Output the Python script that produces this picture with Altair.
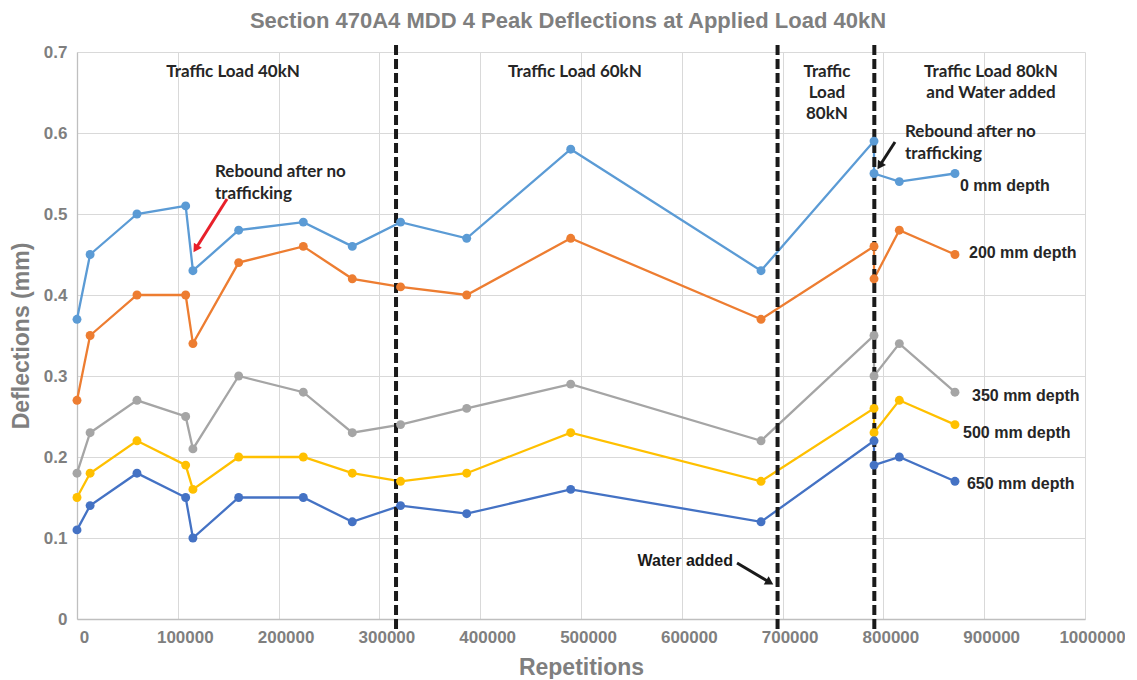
import altair as alt
import pandas as pd
import math

# ---------------- data ----------------
reps = [0, 13000, 59500, 107800, 115000, 160400, 224500, 273100, 321000,
        386600, 489800, 678600, 790700, 790700, 815800, 871000]
depth_0 = [0.37, 0.45, 0.50, 0.51, 0.43, 0.48, 0.49, 0.46, 0.49, 0.47, 0.58, 0.43, 0.59, 0.55, 0.54, 0.55]
depth_200 = [0.27, 0.35, 0.40, 0.40, 0.34, 0.44, 0.46, 0.42, 0.41, 0.40, 0.47, 0.37, 0.46, 0.42, 0.48, 0.45]
depth_350 = [0.18, 0.23, 0.27, 0.25, 0.21, 0.30, 0.28, 0.23, 0.24, 0.26, 0.29, 0.22, 0.35, 0.30, 0.34, 0.28]
depth_500 = [0.15, 0.18, 0.22, 0.19, 0.16, 0.20, 0.20, 0.18, 0.17, 0.18, 0.23, 0.17, 0.26, 0.23, 0.27, 0.24]
depth_650 = [0.11, 0.14, 0.18, 0.15, 0.10, 0.15, 0.15, 0.12, 0.14, 0.13, 0.16, 0.12, 0.22, 0.19, 0.20, 0.17]

series_names = ["0 mm depth", "200 mm depth", "350 mm depth", "500 mm depth", "650 mm depth"]
series_colors = ["#5B9BD5", "#ED7D31", "#A5A5A5", "#FFC000", "#4472C4"]
series_values = [depth_0, depth_200, depth_350, depth_500, depth_650]

# series end labels
label_x = [876000, 884900, 887900, 879000, 882900]
label_y = [0.535, 0.452, 0.275, 0.230, 0.167]

# phase boundaries (dashed lines)
boundary_x = [316500, 695000, 791000]

# region texts
region_text = ["Traffic Load 40kN", "Traffic Load 60kN", "Traffic\nLoad\n80kN",
               "Traffic Load 80kN\nand Water added"]
region_x = [154800, 494000, 744000, 906700]
region_y = [0.685, 0.685, 0.685, 0.685]

rebound_text = ["Rebound after no\ntrafficking", "Rebound after no\ntrafficking"]
rebound_x = [136900, 821400]
rebound_y = [0.562, 0.611]

water_text = ["Water added"]
water_x = [650800]
water_y = [0.0716]

# arrows: start -> tip (data units), colour
arrow_x1 = [148800, 811500, 654800]
arrow_y1 = [0.5185, 0.5889, 0.0691]
arrow_x2 = [115100, 793650, 691500]
arrow_y2 = [0.4519, 0.5543, 0.0420]
arrow_color = ["#E8202A", "#1A1A1A", "#1A1A1A"]

# ---------------- build tables ----------------
rows = []
for name, vals in zip(series_names, series_values):
    for i, (r, v) in enumerate(zip(reps, vals)):
        rows.append({"series": name, "rep": r, "defl": v, "idx": i})
df = pd.DataFrame(rows)

W, H = 1008, 567
XMAX, YMAX = 1000000, 0.7
px_x = W / XMAX
px_y = H / YMAX

arrows = []
for x1, y1, x2, y2, c in zip(arrow_x1, arrow_y1, arrow_x2, arrow_y2, arrow_color):
    dxp = (x2 - x1) * px_x
    dyp = -(y2 - y1) * px_y
    ln = (dxp ** 2 + dyp ** 2) ** 0.5
    ux, uy = dxp / ln, dyp / ln
    ang = math.degrees(math.atan2(ux, -uy)) % 360
    hx = x2 - 5 * ux / px_x
    hy = y2 + 5 * uy / px_y
    arrows.append({"x1": x1, "y1": y1, "hx": hx, "hy": hy, "ang": ang, "c": c})
arr_df = pd.DataFrame(arrows)

xs = alt.Scale(domain=[0, XMAX], nice=False)
ys = alt.Scale(domain=[0, YMAX], nice=False)
color = alt.Color("series:N", scale=alt.Scale(domain=series_names, range=series_colors), legend=None)

x_enc = alt.X("rep:Q", scale=xs, title="Repetitions",
              axis=alt.Axis(values=list(range(0, 1000001, 100000)), format="d",
                            labelFlush=False, labelOffset=7, ticks=False,
                            labelPadding=10, titlePadding=11))
y_enc = alt.Y("defl:Q", scale=ys, title="Deflections (mm)",
              axis=alt.Axis(values=[0, 0.1, 0.2, 0.3, 0.4, 0.5, 0.6, 0.7], format=".1~f",
                            ticks=False, labelPadding=10, titlePadding=10))

base = alt.Chart(df)
lines = base.mark_line(strokeWidth=2.3).encode(x=x_enc, y=y_enc, color=color, order="idx:Q", detail="series:N")
points = base.mark_circle(size=80, opacity=1).encode(x="rep:Q", y="defl:Q", color=color)

bdf = pd.DataFrame({"bx": boundary_x})
rules = alt.Chart(bdf).mark_rule(color="#1A1A1A", strokeWidth=4, strokeDash=[10, 4]).encode(
    x=alt.X("bx:Q", scale=xs), y=alt.value(-7), y2=alt.value(580))

ldf = pd.DataFrame({"t": series_names, "x": label_x, "y": label_y})
labels = alt.Chart(ldf).mark_text(align="left", baseline="middle", font="Liberation Sans",
                                  fontSize=16, fontWeight="bold", color="#262626").encode(
    x=alt.X("x:Q", scale=xs), y=alt.Y("y:Q", scale=ys), text="t:N")

rdf = pd.DataFrame({"t": region_text, "x": region_x, "y": region_y})
regions = alt.Chart(rdf).mark_text(align="center", baseline="top", font="Lato", fontSize=17,
                                   fontWeight="bold", color="#262626", lineBreak="\n",
                                   lineHeight=21).encode(
    x=alt.X("x:Q", scale=xs), y=alt.Y("y:Q", scale=ys), text="t:N")

rbdf = pd.DataFrame({"t": rebound_text, "x": rebound_x, "y": rebound_y})
rebound = alt.Chart(rbdf).mark_text(align="left", baseline="top", font="Lato", fontSize=17,
                                    fontWeight="bold", color="#262626", lineBreak="\n",
                                    lineHeight=22).encode(
    x=alt.X("x:Q", scale=xs), y=alt.Y("y:Q", scale=ys), text="t:N")

wdf = pd.DataFrame({"t": water_text, "x": water_x, "y": water_y})
water = alt.Chart(wdf).mark_text(align="right", baseline="middle", font="Liberation Sans",
                                 fontSize=16, fontWeight="bold", color="#1A1A1A").encode(
    x=alt.X("x:Q", scale=xs), y=alt.Y("y:Q", scale=ys), text="t:N")

acolor = alt.Color("c:N", scale=None)
arrow_lines = alt.Chart(arr_df).mark_rule(strokeWidth=3).encode(
    x=alt.X("x1:Q", scale=xs), y=alt.Y("y1:Q", scale=ys), x2="hx:Q", y2="hy:Q", color=acolor)
arrow_heads = alt.Chart(arr_df).mark_point(shape="triangle-up", filled=True, size=90, opacity=1).encode(
    x=alt.X("hx:Q", scale=xs), y=alt.Y("hy:Q", scale=ys), angle=alt.Angle("ang:Q", scale=None),
    color=acolor)

chart = alt.layer(lines, rules, points, labels, regions, rebound, water, arrow_lines, arrow_heads).properties(
    width=W, height=H,
    autosize=alt.AutoSizeParams(type="none"),
    padding={"left": 69, "top": 44, "right": 40, "bottom": 60},
    title=alt.TitleParams(text="Section 470A4 MDD 4 Peak Deflections at Applied Load 40kN",
                          font="Liberation Sans", fontSize=22, fontWeight="bold",
                          color="#7F7F7F", anchor="middle", offset=10, dx=-13, frame="group"),
).configure_view(strokeWidth=0).configure_axis(
    labelFont="Liberation Sans", labelFontSize=17, labelFontWeight="bold", labelColor="#7F7F7F",
    titleFont="Liberation Sans", titleFontSize=23, titleFontWeight="bold", titleColor="#7F7F7F",
    gridColor="#D9D9D9", gridWidth=1, domainColor="#BFBFBF", domainWidth=1.3,
)

chart.save("out.html", embed_options={"renderer": "svg", "actions": False})
